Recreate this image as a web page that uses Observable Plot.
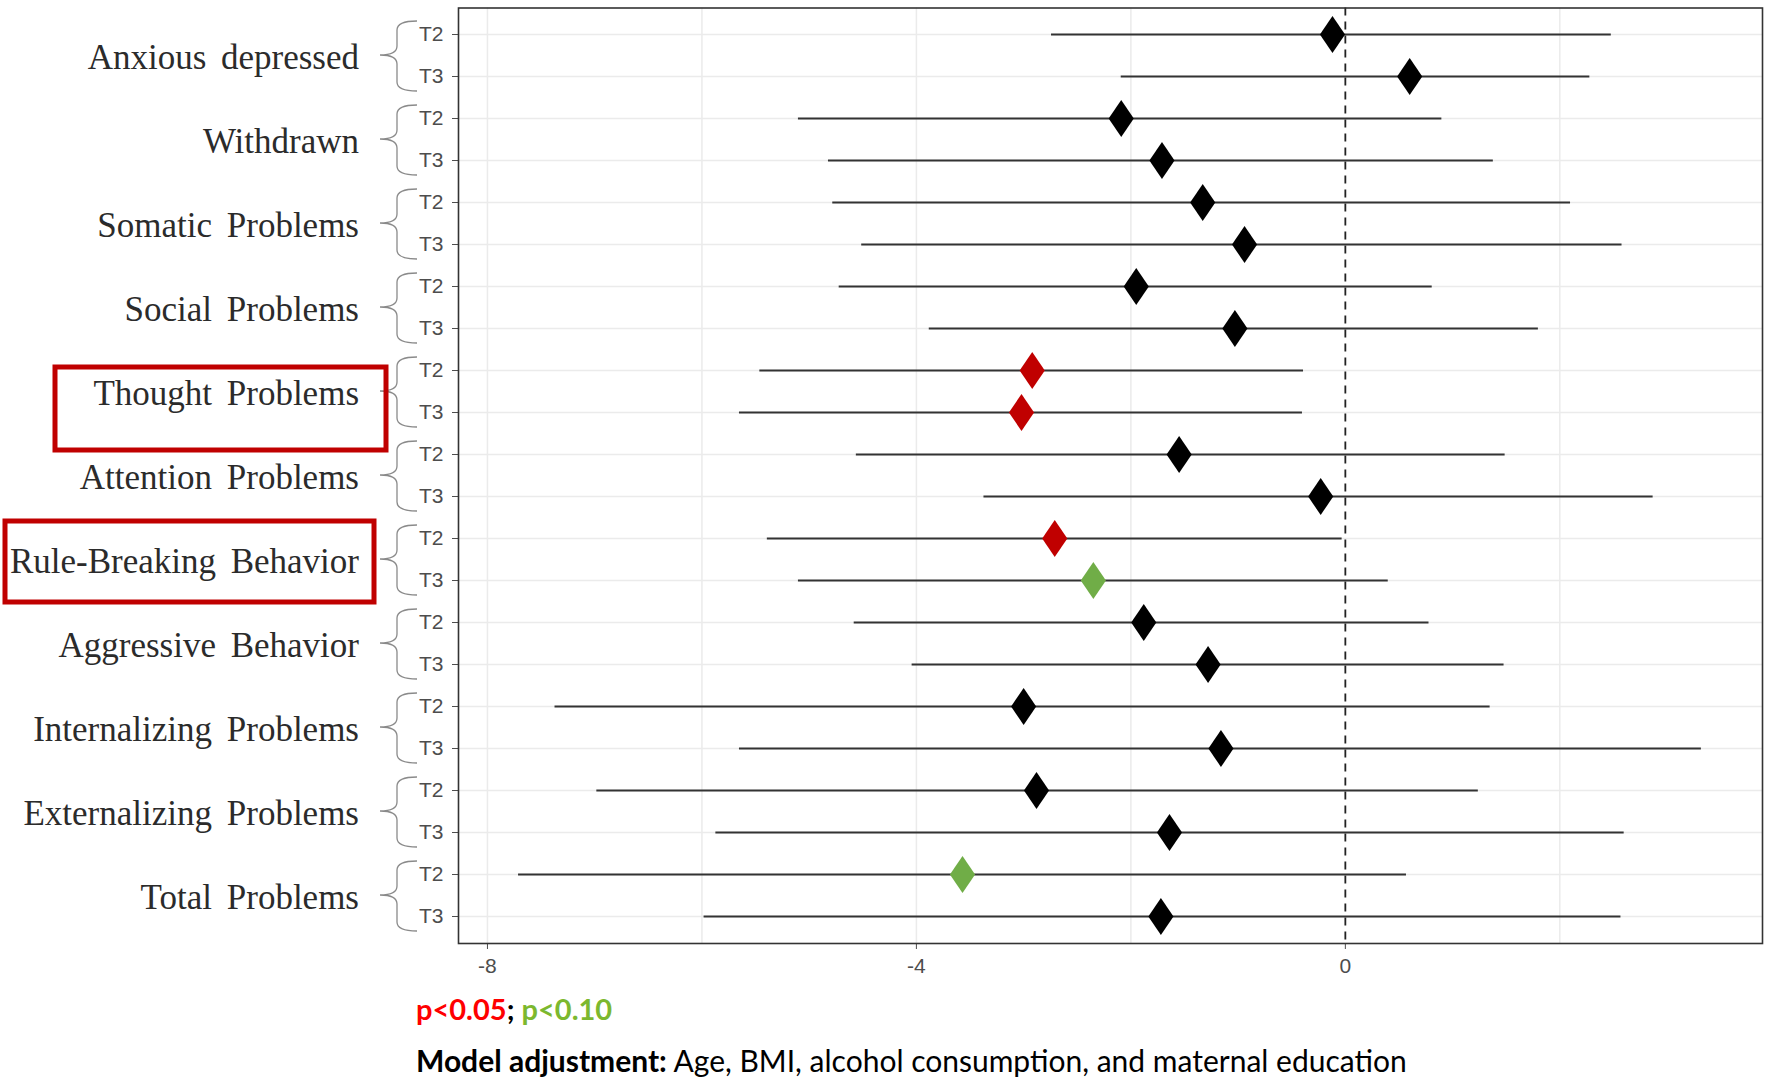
<!DOCTYPE html>
<html>
<head>
<meta charset="utf-8">
<script src="https://cdn.jsdelivr.net/npm/d3@7"></script>
<script src="https://cdn.jsdelivr.net/npm/@observablehq/plot@0.6"></script>
<style>
  html, body { margin: 0; padding: 0; background: white; }
  body { width: 1765px; height: 1077px; position: relative; overflow: hidden; }
  #chart { position: absolute; left: 0; top: 0; }
  .note { position: absolute; left: 416px; font-family: Lato, "Open Sans", sans-serif; line-height: 34px; white-space: nowrap; color: #000; }
</style>
</head>
<body>
<div id="chart"></div>
<div class="note" style="top:992px;font-size:29px;font-weight:bold;"><span style="color:#FF0000">p&lt;0.05</span>; <span style="color:#7CB82F">p&lt;0.10</span></div>
<div class="note" style="top:1043px;font-size:30px;"><b>Model adjustment:</b> Age, BMI, alcohol consumption, and maternal education</div>
<script>
// ---- data ----
const groups = ["Anxious depressed", "Withdrawn", "Somatic Problems", "Social Problems",
  "Thought Problems", "Attention Problems", "Rule-Breaking Behavior", "Aggressive Behavior",
  "Internalizing Problems", "Externalizing Problems", "Total Problems"];
const times = ["T2", "T3"];
// one value per group x time, in order (group1 T2, group1 T3, group2 T2, ...)
const estimate = [-0.12, 0.60, -2.09, -1.71, -1.33, -0.94, -1.95, -1.03, -2.92, -3.02, -1.55, -0.23,
  -2.71, -2.35, -1.88, -1.28, -3.00, -1.16, -2.88, -1.64, -3.57, -1.72];
const lower = [-2.74, -2.09, -5.10, -4.82, -4.78, -4.51, -4.72, -3.88, -5.46, -5.65, -4.56, -3.37,
  -5.39, -5.10, -4.58, -4.04, -7.37, -5.65, -6.98, -5.87, -7.71, -5.98];
const upper = [2.48, 2.28, 0.90, 1.38, 2.10, 2.58, 0.81, 1.80, -0.39, -0.40, 1.49, 2.87,
  -0.03, 0.40, 0.78, 1.48, 1.35, 3.32, 1.24, 2.60, 0.57, 2.57];
const significance = ["ns", "ns", "ns", "ns", "ns", "ns", "ns", "ns", "p<0.05", "p<0.05", "ns", "ns",
  "p<0.05", "p<0.10", "ns", "ns", "ns", "ns", "ns", "ns", "p<0.10", "ns"];
const xTicks = [-8, -4, 0];
const xGrid = [-8, -6, -4, -2, 2];
const xLimits = [-8.27, 3.89];
const highlighted = ["Thought Problems", "Rule-Breaking Behavior"];

// ---- table ----
const rows = [];
groups.forEach((g, i) => times.forEach((t, j) => {
  const k = i * times.length + j;
  rows.push({group: g, time: t, key: g + "|" + t, est: estimate[k], lo: lower[k], hi: upper[k], sig: significance[k]});
}));
const keys = rows.map(d => d.key);

// tall diamond symbol
const tallDiamond = {
  draw(ctx, size) {
    const r = Math.sqrt(size / Math.PI), w = r * 0.68;
    ctx.moveTo(0, -r); ctx.lineTo(w, 0); ctx.lineTo(0, r); ctx.lineTo(-w, 0); ctx.closePath();
  }
};

// braces, group labels and highlight boxes (left of the panel)
const boxPad = {
  "Thought Problems": {left: 55, right: 386, top: 3, bottom: 38},
  "Rule-Breaking Behavior": {left: 5, right: 374, top: 17, bottom: 22}
};
function groupDecor(index, scales, values, dimensions) {
  const g = d3.create("svg:g");
  const x0 = dimensions.marginLeft;
  const xTip = x0 - 41, xSpine = x0 - 61, xPoint = x0 - 78, xText = x0 - 99;
  groups.forEach(grp => {
    const y1 = scales.y(grp + "|T2"), y2 = scales.y(grp + "|T3");
    const yTop = y1 - 13, yBot = y2 + 15, yMid = (y1 + y2) / 2, r = 9;
    const p = d3.path();
    p.moveTo(xTip, yTop);
    p.quadraticCurveTo(xSpine, yTop, xSpine, yTop + r);
    p.lineTo(xSpine, yMid - r);
    p.quadraticCurveTo(xSpine, yMid, xPoint, yMid);
    p.quadraticCurveTo(xSpine, yMid, xSpine, yMid + r);
    p.lineTo(xSpine, yBot - r);
    p.quadraticCurveTo(xSpine, yBot, xTip, yBot);
    g.append("path").attr("d", p.toString()).attr("fill", "none")
      .attr("stroke", "#8a8a8a").attr("stroke-width", 1.3);
    g.append("text").attr("x", xText).attr("y", yMid + 2)
      .attr("text-anchor", "end").attr("dominant-baseline", "central")
      .attr("font-family", "'Liberation Serif', 'Times New Roman', serif")
      .attr("font-size", 35).attr("word-spacing", "6px").attr("fill", "#2b2b2b")
      .text(grp);
    if (highlighted.includes(grp)) {
      const b = boxPad[grp];
      g.append("rect").attr("x", b.left).attr("y", y1 - b.top)
        .attr("width", b.right - b.left).attr("height", (y2 + b.bottom) - (y1 - b.top))
        .attr("fill", "none").attr("stroke", "#C00000").attr("stroke-width", 5);
    }
  });
  return g.node();
}

const chart = Plot.plot({
  width: 1765, height: 990,
  marginLeft: 458, marginRight: 3, marginTop: 7.5, marginBottom: 47,
  style: {fontFamily: "'Liberation Sans', Arial, sans-serif", fontSize: "21px", color: "#4D4D4D", background: "white", overflow: "visible"},
  x: {domain: xLimits, ticks: xTicks, tickSize: 6, tickPadding: 9, label: null, tickFormat: d => String(d)},
  y: {type: "point", domain: keys, padding: 0.6, tickSize: 6, tickPadding: 9, label: null,
      tickFormat: d => d.split("|")[1]},
  color: {domain: ["ns", "p<0.05", "p<0.10"], range: ["#000000", "#C00000", "#70AD47"]},
  marks: [
    Plot.ruleX(xGrid, {stroke: "#EBEBEB", strokeWidth: 1.5}),
    Plot.ruleY(keys, {stroke: "#EBEBEB", strokeWidth: 1.5}),
    Plot.ruleX([0], {stroke: "#222", strokeWidth: 1.8, strokeDasharray: "8,6"}),
    Plot.ruleY(rows, {y: "key", x1: "lo", x2: "hi", stroke: "#333", strokeWidth: 2.2}),
    Plot.dot(rows, {x: "est", y: "key", fill: "sig", symbol: tallDiamond, r: 18.5, stroke: "none"}),
    Plot.frame({stroke: "#333", strokeWidth: 1.6}),
    groupDecor
  ]
});
document.getElementById("chart").appendChild(chart);
</script>
</body>
</html>
